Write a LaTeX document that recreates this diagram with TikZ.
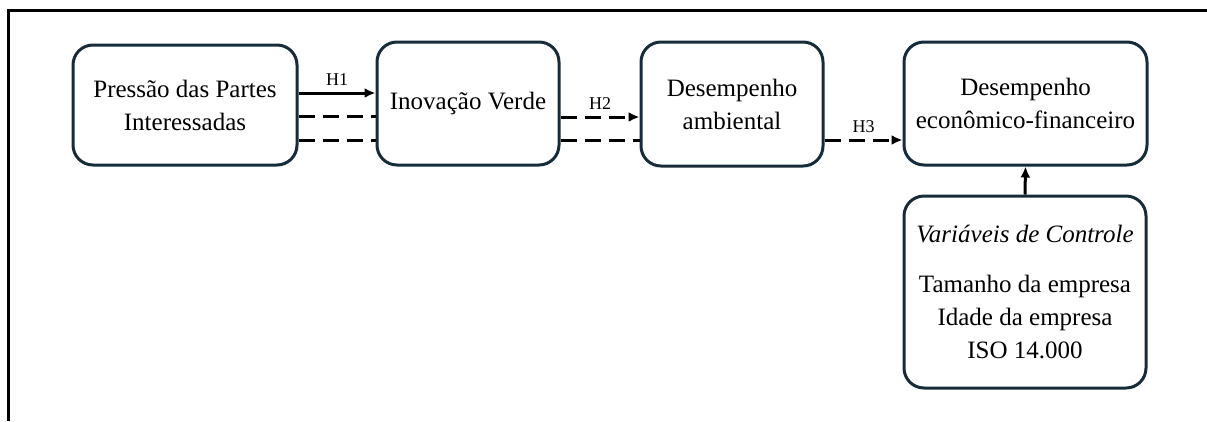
\documentclass[tikz,border=0pt]{standalone}
\usepackage{fontspec}
\setmainfont{Liberation Serif}
\usetikzlibrary{arrows.meta,calc}
\definecolor{boxline}{RGB}{22,44,58}
\tikzset{
  box/.style={draw=boxline, line width=3pt, rounded corners=20pt, align=center,
    inner sep=0pt, font=\rmfamily\fontsize{25}{33}\selectfont, text=black},
  conn/.style={line width=3pt, black},
  dashconn/.style={conn, dash pattern=on 16pt off 8pt},
  tip/.style={-{Latex[length=11pt,width=10pt]}},
  hlab/.style={font=\rmfamily\fontsize{18}{20}\selectfont, inner sep=0pt},
  frame/.style={line width=3pt, black}
}
\begin{document}
\begin{tikzpicture}[x=1pt,y=-1pt]
\useasboundingbox (0,0) rectangle (1207,421);
% frame
\coordinate (ftl) at (8,10);
\coordinate (ftr) at (1207,10);
\coordinate (fbl) at (8,421);
\draw[frame] (ftr) -- (ftl) -- (fbl);
% boxes
\node[box, minimum width=224pt, minimum height=120pt] (b1) at (185,105) {Pressão das Partes\\Interessadas};
\node[box, minimum width=182pt, minimum height=123pt] (b2) at (468,103.5) {Inovação Verde};
\node[box, minimum width=182pt, minimum height=124pt] (b3) at (732,104) {Desempenho\\ambiental};
\node[box, minimum width=243pt, minimum height=123pt] (b4) at (1025.5,103.5) {Desempenho\\econômico-financeiro};
\node[box, minimum width=242pt, minimum height=192pt] (b5) at (1025,292) {\textit{Variáveis de Controle}\\[17pt]Tamanho da empresa\\Idade da empresa\\ISO 14.000};
% connectors
\draw[conn, tip] (b1.east |- 0,93) -- node[hlab, above=6pt] (h1) {H1} (b2.west |- 0,93);
\draw[dashconn] (b1.east |- 0,116) -- (b2.west |- 0,116);
\draw[dashconn] (b1.east |- 0,140) -- (b2.west |- 0,140);
\draw[dashconn, tip] (b2.east |- 0,117) -- node[hlab, above=6pt] (h2) {H2} (b3.west |- 0,117);
\draw[dashconn] (b2.east |- 0,140) -- (b3.west |- 0,140);
\draw[dashconn, tip] (b3.east |- 0,140) -- node[hlab, above=6pt] (h3) {H3} (b4.west |- 0,140);
\draw[conn, tip] (b5.north) -- (b4.south);
\end{tikzpicture}
\end{document}
